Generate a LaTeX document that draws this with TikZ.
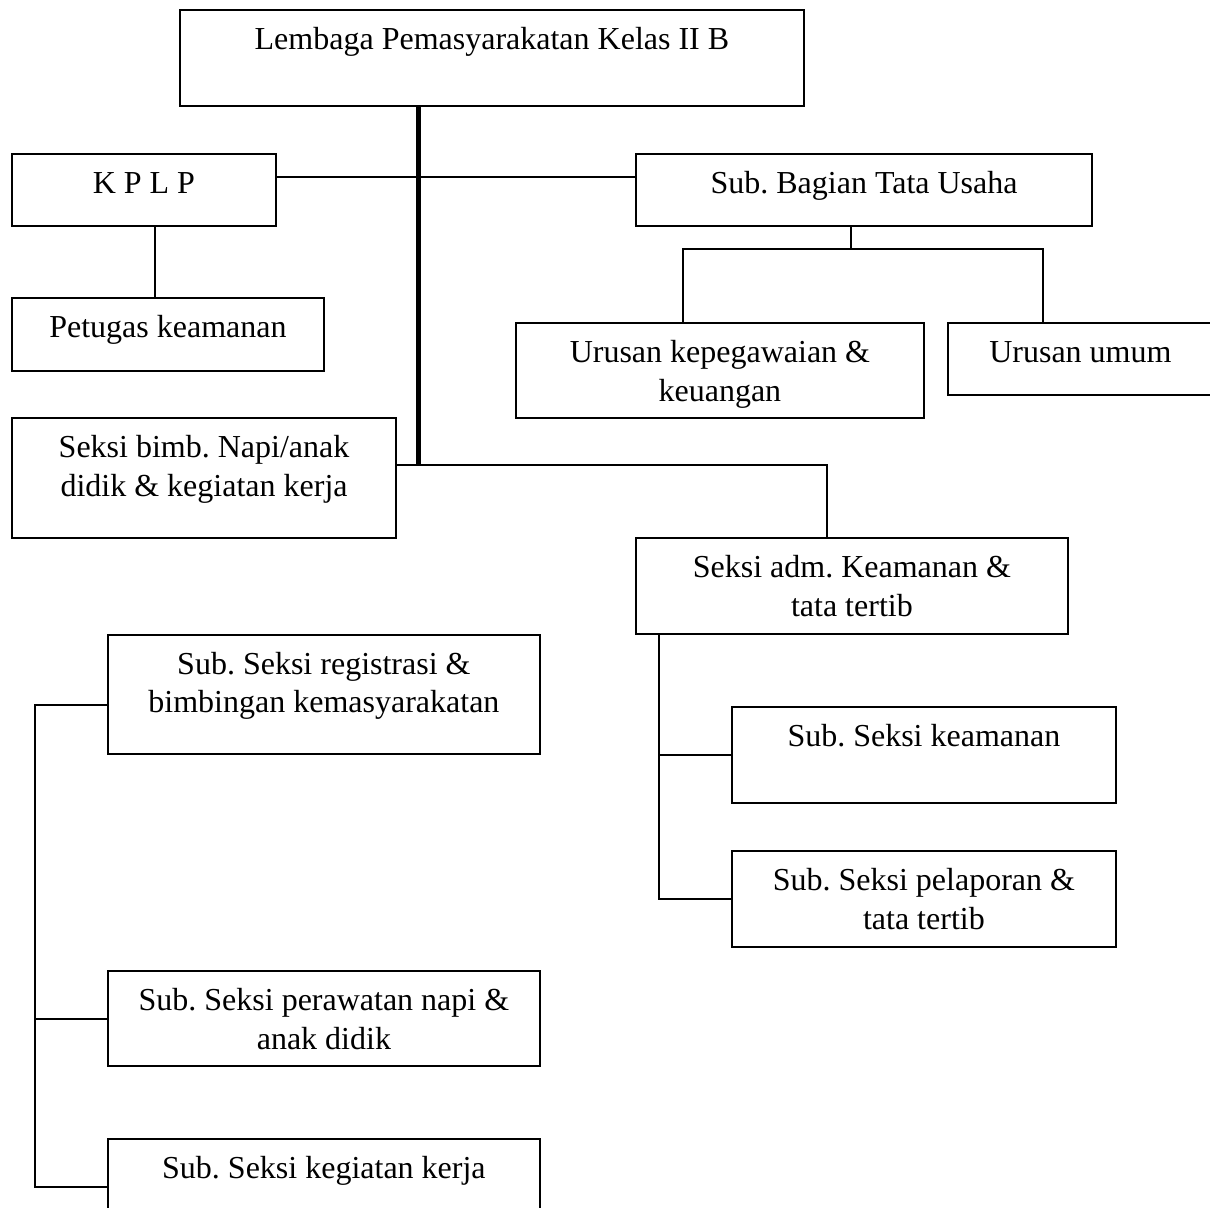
\documentclass[tikz,border=0pt]{standalone}
\usepackage{fontspec}
\setmainfont{Liberation Serif}
\frenchspacing
\begin{document}
\begin{tikzpicture}[x=0.4pt,y=-0.4pt,
  box/.style={draw,line width=0.85pt,anchor=north west,inner sep=0pt},
  txt/.style={anchor=north,inner sep=0pt,yshift=-5.2pt,align=center,font=\fontsize{12.8}{15.5}\selectfont},
  conn/.style={line width=0.75pt},
  spine/.style={line width=1.8pt}]
\def\px{0.4pt}
\useasboundingbox[fill=white] (0,0) rectangle (1210,1207);
\node[box,minimum width=624.3*\px,minimum height=96*\px,label={[txt]north:\strut Lembaga Pemasyarakatan Kelas II B}] (lapas) at (178.7,9.3) {};
\node[box,minimum width=264.3*\px,minimum height=72*\px,label={[txt]north:\strut K P L P}] (kplp) at (10.7,153.3) {};
\node[box,minimum width=312.3*\px,minimum height=73*\px,label={[txt]north:\strut Petugas keamanan}] (petugas) at (10.7,296.7) {};
\node[box,minimum width=384.6*\px,minimum height=120.3*\px,label={[txt]north:\strut Seksi bimb. Napi/anak\\didik \& kegiatan kerja}] (bimb) at (10.7,417) {};
\node[box,minimum width=456.6*\px,minimum height=72*\px,label={[txt]north:\strut Sub. Bagian Tata Usaha}] (tu) at (634.7,153.3) {};
\node[box,minimum width=408.3*\px,minimum height=95.6*\px,label={[txt]north:\strut Urusan kepegawaian \&\\keuangan}] (peg) at (514.7,321.7) {};
\node[box,minimum width=265.3*\px,minimum height=72*\px,label={[txt]north:\strut Urusan umum}] (umum) at (946.7,321.7) {};
\node[box,minimum width=432.3*\px,minimum height=96*\px,label={[txt]north:\strut Seksi adm. Keamanan \&\\tata tertib}] (adm) at (634.7,537) {};
\node[box,minimum width=384.3*\px,minimum height=96.2*\px,label={[txt]north:\strut Sub. Seksi keamanan}] (keam) at (730.7,705.5) {};
\node[box,minimum width=384.3*\px,minimum height=96*\px,label={[txt]north:\strut Sub. Seksi pelaporan \&\\tata tertib}] (pelap) at (730.7,849.7) {};
\node[box,minimum width=432.3*\px,minimum height=119.2*\px,label={[txt]north:\strut Sub. Seksi registrasi \&\\bimbingan kemasyarakatan}] (reg) at (106.7,633.6) {};
\node[box,minimum width=432.3*\px,minimum height=95.6*\px,label={[txt]north:\strut Sub. Seksi perawatan napi \&\\anak didik}] (raw) at (106.7,969.7) {};
\node[box,minimum width=432.3*\px,minimum height=95.4*\px,label={[txt]north:\strut Sub. Seksi kegiatan kerja}] (kerja) at (106.7,1138) {};
% lines
\coordinate (jn) at (418.3,465);
\coordinate (hk) at (418.3,177.3);
\coordinate (kp) at (155,260);
\coordinate (ja) at (826.7,465);
\coordinate (tb) at (850.7,249);
\coordinate (tl) at (682.7,249);
\coordinate (tr) at (1043,249);
\coordinate (ab) at (659,700);
\coordinate (lt) at (34.7,705);
\draw[conn] (kplp.east |- hk) -- (tu.west |- hk);
\draw[conn] (kplp.south -| kp) -- (petugas.north -| kp);
\draw[conn] (bimb.east |- jn) -- (ja) -- (adm.north -| ja);
\draw[spine] (lapas.south -| jn) -- (jn);
\draw[conn] (tu.south -| tb) -- (tb);
\draw[conn] (peg.north -| tl) -- (tl) -- (tr) -- (umum.north -| tr);
\draw[conn] (adm.south -| ab) -- (ab |- pelap.west) -- (pelap.west);
\draw[conn] (ab |- keam.west) -- (keam.west);
\draw[conn] (reg.west |- lt) -- (lt) -- (lt |- kerja.west) -- (kerja.west);
\draw[conn] (lt |- raw.west) -- (raw.west);
\end{tikzpicture}
\end{document}
